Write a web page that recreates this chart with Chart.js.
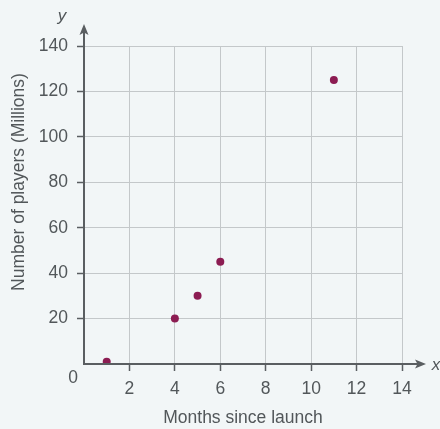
<!DOCTYPE html>
<html>
<head>
<meta charset="utf-8">
<script src="https://cdn.jsdelivr.net/npm/chart.js@4/dist/chart.umd.min.js"></script>
<style>
  html, body { margin: 0; padding: 0; background: #f2f6f7; }
  #wrap { width: 440px; height: 429px; position: relative; }
</style>
</head>
<body>
<div id="wrap"><canvas id="c" width="440" height="429"></canvas></div>
<script>
// ---- data ----
const monthsSinceLaunch = [1, 4, 5, 6, 11];
const playersMillions = [1, 20, 30, 45, 125];
const xTickValues = [2, 4, 6, 8, 10, 12, 14];
const yTickValues = [20, 40, 60, 80, 100, 120, 140];
const xAxisTitle = 'Months since launch';
const yAxisTitle = 'Number of players (Millions)';

const FONT = '"Liberation Sans", Arial, sans-serif';
const AXIS = '#5a5e61';
const TEXT = '#52575a';

const points = monthsSinceLaunch.map((m, i) => ({ x: m, y: playersMillions[i] }));

const decor = {
  id: 'decor',
  beforeDraw(chart) {
    const ctx = chart.ctx;
    ctx.save();
    ctx.fillStyle = '#f2f6f7';
    ctx.fillRect(0, 0, chart.width, chart.height);
    ctx.restore();
  },
  afterDatasetsDraw(chart) {
    const ctx = chart.ctx;
    const xs = chart.scales.x, ys = chart.scales.y;
    const x0 = xs.getPixelForValue(0), y0 = ys.getPixelForValue(0);
    ctx.save();
    ctx.strokeStyle = AXIS;
    ctx.fillStyle = AXIS;
    ctx.lineWidth = 2;
    // y axis with arrow
    const yTip = 24;
    ctx.beginPath(); ctx.moveTo(x0, y0); ctx.lineTo(x0, yTip + 8); ctx.stroke();
    ctx.beginPath(); ctx.moveTo(x0, yTip); ctx.lineTo(x0 - 4.5, yTip + 11); ctx.lineTo(x0, yTip + 8.5); ctx.lineTo(x0 + 4.5, yTip + 11); ctx.closePath(); ctx.fill();
    // x axis with arrow
    const xTip = 426;
    ctx.beginPath(); ctx.moveTo(x0 - 1, y0); ctx.lineTo(xTip - 8, y0); ctx.stroke();
    ctx.beginPath(); ctx.moveTo(xTip, y0); ctx.lineTo(xTip - 11, y0 - 4.5); ctx.lineTo(xTip - 8.5, y0); ctx.lineTo(xTip - 11, y0 + 4.5); ctx.closePath(); ctx.fill();
    // labels
    ctx.fillStyle = TEXT;
    ctx.textAlign = 'center';
    ctx.textBaseline = 'middle';
    ctx.font = '17.5px ' + FONT;
    ctx.fillText('0', x0 - 11, y0 + 14);
    ctx.font = 'italic 17px ' + FONT;
    ctx.fillText('y', x0 - 22, 16);
    ctx.fillText('x', 436, y0 + 1);
    // y axis title
    ctx.font = '17.5px ' + FONT;
    ctx.translate(19, 182);
    ctx.rotate(-Math.PI / 2);
    ctx.fillText(yAxisTitle, 0, 0);
    ctx.restore();
  }
};

new Chart(document.getElementById('c'), {
  type: 'scatter',
  data: {
    datasets: [{
      data: points,
      backgroundColor: '#8c1c52',
      borderWidth: 0,
      pointRadius: 4,
      pointHoverRadius: 4
    }]
  },
  options: {
    responsive: false,
    animation: false,
    devicePixelRatio: 1,
    layout: { padding: { left: 0, top: 46, right: 38, bottom: 0 } },
    plugins: { legend: { display: false }, tooltip: { enabled: false } },
    scales: {
      x: {
        type: 'linear', min: 0, max: 14,
        afterFit(s) { s.height = 65; },
        afterBuildTicks(s) { s.ticks = [0].concat(xTickValues).map(v => ({ value: v })); },
        border: { display: false },
        grid: {
          color: ctx => (ctx.tick && ctx.tick.value === 0) ? 'rgba(0,0,0,0)' : '#c4c8ca',
          tickColor: ctx => (ctx.tick && ctx.tick.value === 0) ? 'rgba(0,0,0,0)' : AXIS,
          tickLength: 7, lineWidth: 1, tickWidth: 1.5
        },
        ticks: {
          padding: 8, color: TEXT, font: { family: FONT, size: 17.5 },
          maxRotation: 0, autoSkip: false,
          callback: v => v === 0 ? '' : String(v)
        },
        title: { display: true, text: xAxisTitle, color: TEXT, font: { family: FONT, size: 17.5 }, padding: { top: 0, bottom: 0 } }
      },
      y: {
        type: 'linear', min: 0, max: 140,
        afterFit(s) { s.width = 84; },
        afterBuildTicks(s) { s.ticks = [0].concat(yTickValues).map(v => ({ value: v })); },
        border: { display: false },
        grid: {
          color: ctx => (ctx.tick && ctx.tick.value === 0) ? 'rgba(0,0,0,0)' : '#c4c8ca',
          tickColor: ctx => (ctx.tick && ctx.tick.value === 0) ? 'rgba(0,0,0,0)' : AXIS,
          tickLength: 7, lineWidth: 1, tickWidth: 1.5
        },
        ticks: {
          padding: 9, color: TEXT, font: { family: FONT, size: 17.5 },
          autoSkip: false,
          callback: v => v === 0 ? '' : String(v)
        }
      }
    }
  },
  plugins: [decor]
});
</script>
</body>
</html>
